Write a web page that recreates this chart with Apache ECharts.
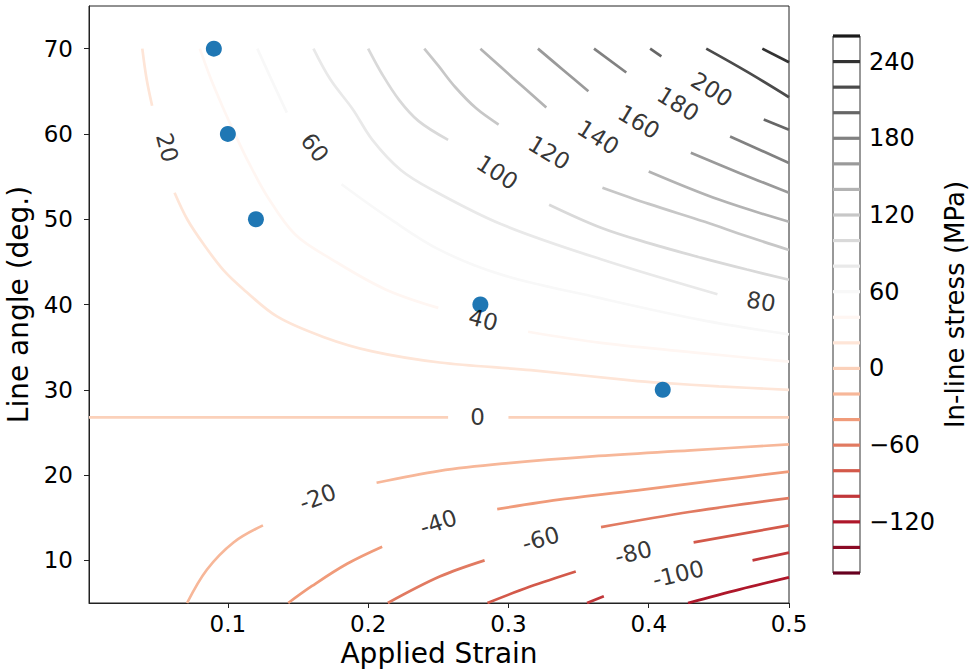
<!DOCTYPE html>
<html><head><meta charset="utf-8">
<script src="https://cdn.jsdelivr.net/npm/echarts@6/dist/echarts.min.js"></script>
<style>html,body{margin:0;padding:0;background:#fff}#c{width:971px;height:670px}</style>
</head><body><div id="c"></div>
<script>
// ---- tick labels ----
const strainTicks = [0.1, 0.2, 0.3, 0.4, 0.5];
const angleTicks = [10, 20, 30, 40, 50, 60, 70];
const stressTicks = [-120, -60, 0, 60, 120, 180, 240];
const levels = [-160,-140,-120,-100,-80,-60,-40,-20,0,20,40,60,80,100,120,140,160,180,200,220,240,260];

// ---- measured points (strain, angle) ----
const strainPts = [0.09, 0.10, 0.12, 0.28, 0.41];
const anglePts  = [70, 60, 50, 40, 30];

// ---- contour lines: [strain, angle] segments ----
const c240 = [[[0.481,70],[0.5,68.4]]];
const c220 = [[[0.441,70],[0.47,67.3],[0.5,64.3]]];
const c200 = [[[0.401,70],[0.409,69.1]], [[0.482,61.7],[0.5,60.5]]];
const c180 = [[[0.361,70],[0.384,67.2]], [[0.458,59.7],[0.5,56.6]]];
const c160 = [[[0.321,70],[0.339,67.5],[0.357,65.0]], [[0.430,57.8],[0.465,55.4],[0.5,53.1]]];
const c140 = [[[0.280,70],[0.303,66.6],[0.327,63.1]], [[0.400,55.6],[0.45,52.3],[0.5,49.7]]];
const c120 = [[[0.240,70],[0.250,68],[0.262,65.5],[0.277,63],[0.293,61.1]],
              [[0.367,53.7],[0.40,51.8],[0.44,49.7],[0.47,48.0],[0.5,46.4]]];
const c100 = [[[0.200,70],[0.210,67],[0.222,64],[0.236,61.5],[0.257,59.3]],
              [[0.329,51.7],[0.366,49.0],[0.40,47.2],[0.437,45.5],[0.47,44.1],[0.5,42.9]]];
const c80  = [[[0.161,70],[0.173,66.4],[0.189,62.9],[0.203,59.3],[0.223,55.8],[0.245,53.5],[0.295,49.4],[0.366,45.3],[0.449,41.2]]];
const c60  = [[[0.121,70],[0.131,66.4],[0.142,62.5]],
              [[0.181,54.1],[0.216,50],[0.251,46.4],[0.295,43.5],[0.364,40.8],[0.437,38.2],[0.5,36.5]]];
const c40  = [[[0.080,70],[0.088,66.4],[0.097,62.9],[0.105,60],[0.115,56.6],[0.128,52.7],[0.148,48.2],[0.174,45.3],[0.212,41.8],[0.25,39.6]],
              [[0.314,36.8],[0.366,35.5],[0.437,34.3],[0.5,33.3]]];
const c20  = [[[0.039,70],[0.042,66.5],[0.046,63.3]],
              [[0.062,53.1],[0.071,50],[0.083,47],[0.097,44],[0.111,41.8],[0.135,38.6],[0.168,36.2],[0.203,34.5],[0.251,33.2],[0.316,32.3],[0.387,31.1],[0.41,30.8],[0.45,30.4],[0.5,30.0]]];
const c0   = [[[0.001,26.76],[0.257,26.76]], [[0.300,26.76],[0.5,26.76]]];
const cN20 = [[[0.0709,5.0],[0.085,8.9],[0.104,12.1],[0.125,14.1]],
              [[0.206,19.1],[0.251,20.5],[0.30,21.4],[0.36,22.2],[0.43,22.9],[0.5,23.6]]];
const cN40 = [[[0.143,5.0],[0.16,7.0],[0.185,9.6],[0.21,11.6]],
              [[0.292,16.0],[0.34,17.2],[0.396,18.3],[0.45,19.4],[0.5,20.4]]];
const cN60 = [[[0.214,5.0],[0.251,8.1],[0.283,10.0]], [[0.366,13.9],[0.43,15.7],[0.5,17.3]]];
const cN80 = [[[0.285,5.0],[0.315,6.9],[0.348,8.7]], [[0.432,12.1],[0.5,14.1]]];
const cN100 = [[[0.356,5.0],[0.368,5.8]], [[0.474,10.0],[0.5,10.9]]];
const cN120 = [[[0.428,5.0],[0.465,6.6],[0.5,8.0]]];

// inline contour labels: [level, strain, angle]
const contourLabels = [[20,0.0567,58.4],[60,0.162,58.4],[100,0.292,55.5],[120,0.329,57.8],[140,0.364,59.6],
  [160,0.393,61.4],[180,0.421,63.5],[200,0.445,65.2],[40,0.282,38.2],[80,0.48,40.35],[0,0.278,26.76],
  [-20,0.164,17.4],[-40,0.25,14.45],[-60,0.323,12.5],[-80,0.389,10.9],[-100,0.421,8.4]];

const contours = [[240,c240],[220,c220],[200,c200],[180,c180],[160,c160],[140,c140],[120,c120],[100,c100],
  [80,c80],[60,c60],[40,c40],[20,c20],[0,c0],[-20,cN20],[-40,cN40],[-60,cN60],[-80,cN80],[-100,cN100],[-120,cN120]];

// RdGy colormap, normalised to level range
const RDGY = ['#67001f','#b2182b','#d6604d','#f4a582','#fddbc7','#ffffff','#e0e0e0','#bababa','#878787','#4d4d4d','#1a1a1a'];
const VMIN = levels[0], VMAX = levels[levels.length-1];
function hex(h){return [parseInt(h.slice(1,3),16),parseInt(h.slice(3,5),16),parseInt(h.slice(5,7),16)];}
function cmap(v){
  let t = (v - VMIN) / (VMAX - VMIN); t = Math.max(0, Math.min(1, t));
  const f = t * (RDGY.length - 1); const i = Math.min(Math.floor(f), RDGY.length - 2); const u = f - i;
  const a = hex(RDGY[i]), b = hex(RDGY[i+1]);
  return 'rgb(' + a.map((x,k)=>Math.round(x + (b[k]-x)*u)).join(',') + ')';
}

const FONT = 'DejaVu Sans';
const chart = echarts.init(document.getElementById('c'), null, {renderer: 'svg'});

const series = [];
contours.forEach(([lvl, segs]) => {
  segs.forEach(seg => series.push({
    type: 'line', xAxisIndex: 0, yAxisIndex: 0, data: seg, symbol: 'none', showSymbol: false,
    smooth: 0.35, lineStyle: {color: cmap(lvl), width: 2.7}, silent: true, animation: false, z: 2
  }));
});
levels.forEach(l => series.push({
  type: 'line', xAxisIndex: 1, yAxisIndex: 1, data: [[0,l],[1,l]], symbol: 'none', clip: false,
  lineStyle: {color: cmap(l), width: 3.2}, silent: true, animation: false, z: 2
}));
series.push({
  type: 'scatter', xAxisIndex: 0, yAxisIndex: 0, data: strainPts.map((s,i)=>[s, anglePts[i]]),
  symbolSize: 16, itemStyle: {color: '#1f77b4', opacity: 1}, silent: true, animation: false, z: 5
});

const axisText = {color: '#000', fontFamily: FONT};
chart.setOption({
  animation: false,
  backgroundColor: '#fff',
  grid: [
    {left: 89, top: 6, width: 700, height: 597, show: true, borderColor: '#222', borderWidth: 1,
     containLabel: false, outerBoundsMode: 'none'},
    {left: 833, top: 36, width: 27, height: 537, show: true, borderColor: '#333', borderWidth: 1,
     containLabel: false, outerBoundsMode: 'none'}
  ],
  xAxis: [
    {gridIndex: 0, type: 'value', min: 0.001, max: 0.5,
     name: 'Applied Strain', nameLocation: 'middle', nameGap: 36,
     nameTextStyle: Object.assign({fontSize: 28}, axisText),
     axisLine: {show: true, onZero: false, lineStyle: {color: '#222'}},
     axisTick: {show: true, inside: false, length: 5, customValues: strainTicks, lineStyle: {color: '#222'}},
     axisLabel: Object.assign({customValues: strainTicks, fontSize: 23, margin: 9, formatter: v => v.toFixed(1)}, axisText),
     splitLine: {show: false}},
    {gridIndex: 1, type: 'value', min: 0, max: 1, show: false}
  ],
  yAxis: [
    {gridIndex: 0, type: 'value', min: 5, max: 75,
     name: 'Line angle (deg.)', nameLocation: 'middle', nameGap: 52, nameRotate: 90,
     nameTextStyle: Object.assign({fontSize: 28}, axisText),
     axisLine: {show: true, onZero: false, lineStyle: {color: '#222'}},
     axisTick: {show: true, inside: false, length: 5, customValues: angleTicks, lineStyle: {color: '#222'}},
     axisLabel: Object.assign({customValues: angleTicks, fontSize: 23, margin: 16}, axisText),
     splitLine: {show: false}},
    {gridIndex: 1, type: 'value', min: VMIN, max: VMAX, position: 'right',
     name: 'In-line stress (MPa)', nameLocation: 'middle', nameGap: 82, nameRotate: 90,
     nameTextStyle: Object.assign({fontSize: 26}, axisText),
     axisLine: {show: false},
     axisTick: {show: true, inside: false, length: 5, customValues: stressTicks, lineStyle: {color: '#222'}},
     axisLabel: Object.assign({customValues: stressTicks, fontSize: 24, margin: 9,
       formatter: v => v < 0 ? '\u2212' + Math.abs(v) : String(v)}, axisText),
     splitLine: {show: false}}
  ],
  series: series
});

// inline labels, rotated along their contour
const labelSeries = contourLabels.map(([lvl, s, a]) => {
  const segs = contours.find(c => c[0] === lvl)[1];
  let prev = null, next = null;
  segs.forEach(seg => {
    const last = seg[seg.length-1], first = seg[0];
    if (last[0] <= s && (!prev || last[0] > prev[0])) prev = last;
    if (first[0] >= s && (!next || first[0] < next[0])) next = first;
  });
  const p1 = chart.convertToPixel({gridIndex: 0}, prev || [s, a]);
  const p2 = chart.convertToPixel({gridIndex: 0}, next || [s, a]);
  let ang = Math.atan2(-(p2[1]-p1[1]), p2[0]-p1[0]) * 180 / Math.PI;
  if (ang > 90) ang -= 180; if (ang < -90) ang += 180;
  return {
    type: 'scatter', xAxisIndex: 0, yAxisIndex: 0, data: [[s, a]], symbolSize: 1,
    itemStyle: {color: 'rgba(0,0,0,0)'}, silent: true, animation: false, z: 6,
    label: {show: true, position: 'inside', formatter: String(lvl), rotate: ang,
      align: 'center', verticalAlign: 'middle', fontSize: 23, color: '#000', fontFamily: FONT}
  };
});
chart.setOption({series: series.concat(labelSeries)});
</script>
</body></html>
